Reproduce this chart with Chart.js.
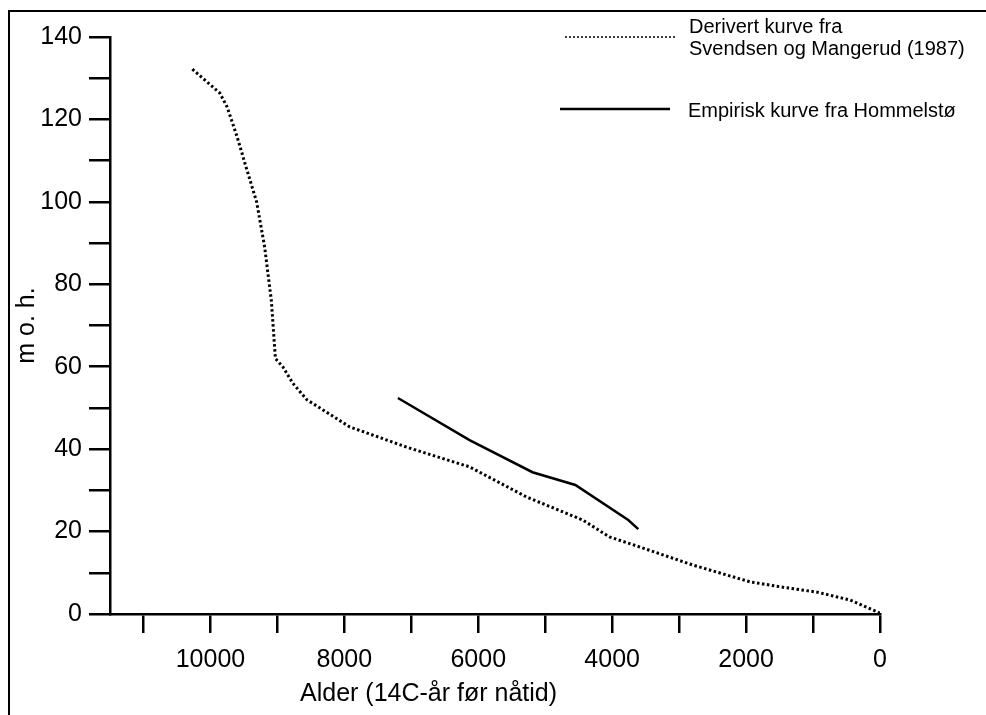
<!DOCTYPE html>
<html>
<head>
<meta charset="utf-8">
<script src="https://cdn.jsdelivr.net/npm/chart.js@4"></script>
<style>
    html, body { margin: 0; padding: 0; background: #fff; overflow: hidden; }
    #wrap { position: relative; width: 986px; height: 715px; }
    #frame { position: absolute; left: 8px; top: 10px; right: -10px; bottom: -10px;
             border-left: 2px solid #000; border-top: 2px solid #000; pointer-events: none; }
</style>
</head>
<body>
<div id="wrap">
    <canvas id="curveChart" width="986" height="715"></canvas>
    <div id="frame"></div>
</div>
<script>
"use strict";

// Derivert kurve (Svendsen og Mangerud 1987) - alder og høyde
const derivAge = [10270, 9860, 9750, 9600, 9460, 9310, 9190, 9090, 9030, 8920, 8770, 8560, 7920, 7070, 6130, 5280, 4440, 4040, 3540, 2800, 1940, 1450, 940, 450, 0];
const derivHeight = [132.2, 126.4, 123, 115.7, 108, 100, 89, 76, 62, 60, 56, 52, 45.4, 40.5, 35.7, 28.4, 22.8, 18.7, 16, 11.9, 7.8, 6.5, 5.3, 3.4, 0.2];

// Empirisk kurve fra Hommelstø
const empAge = [7200, 6130, 5190, 4550, 3760, 3610];
const empHeight = [52.4, 42.2, 34.4, 31.3, 22.8, 20.6];

// aksemerker (hvert 1000 år, tall hvert 2000)
const xTicks = [0, 1000, 2000, 3000, 4000, 5000, 6000, 7000, 8000, 9000, 10000, 11000];

// tekster
const legendLabels = [["Derivert kurve fra", "Svendsen og Mangerud (1987)"], ["Empirisk kurve fra Hommelstø"]];
const xTitle = "Alder (14C-år før nåtid)";
const yTitle = "m o. h.";

const fontName = "'Liberation Sans', Arial, sans-serif";

function toPoints(xs, ys) {
    return xs.map((x, i) => ({ x: x, y: ys[i] }));
}

// tegner forklaring og x-tittel
const extraText = {
    id: 'extraText',
    afterDraw(chart) {
        const ctx = chart.ctx;
        ctx.save();
        ctx.strokeStyle = '#000';

        // prikket linje
        ctx.lineWidth = 1.5;
        ctx.setLineDash([2, 2]);
        ctx.beginPath();
        ctx.moveTo(565, 37);
        ctx.lineTo(675, 37);
        ctx.stroke();

        // heltrukket linje
        ctx.setLineDash([]);
        ctx.lineWidth = 2.5;
        ctx.beginPath();
        ctx.moveTo(560, 109);
        ctx.lineTo(670, 109);
        ctx.stroke();

        ctx.fillStyle = '#000';
        ctx.textBaseline = 'alphabetic';
        ctx.textAlign = 'left';
        ctx.font = "20px " + fontName;
        ctx.fillText(legendLabels[0][0], 689, 32.5);
        ctx.fillText(legendLabels[0][1], 689, 55);
        ctx.fillText(legendLabels[1][0], 688, 116.5);

        ctx.font = "25px " + fontName;
        ctx.fillText(xTitle, 300, 701);
        ctx.restore();
    }
};

const chartEl = document.getElementById('curveChart');

new Chart(chartEl, {
    type: 'line',
    data: {
        datasets: [{
            label: legendLabels[0].join(' '),
            data: toPoints(derivAge, derivHeight),
            borderColor: '#000',
            borderWidth: 3,
            borderDash: [2.5, 2.5],
            pointRadius: 0,
            tension: 0
        }, {
            label: legendLabels[1][0],
            data: toPoints(empAge, empHeight),
            borderColor: '#000',
            borderWidth: 2.5,
            pointRadius: 0,
            tension: 0
        }]
    },
    options: {
        responsive: false,
        animation: false,
        layout: { padding: { left: 0, top: 37, right: 106, bottom: 0 } },
        plugins: {
            legend: { display: false },
            tooltip: { enabled: false }
        },
        scales: {
            x: {
                type: 'linear',
                reverse: true,
                min: 0,
                max: 11500,
                afterBuildTicks(scale) {
                    scale.ticks = xTicks.map(v => ({ value: v }));
                },
                afterFit(scale) { scale.height = 101; },
                grid: { drawOnChartArea: false, drawTicks: true, tickLength: 19, color: '#000', lineWidth: 2.5 },
                border: { color: '#000', width: 2.5 },
                ticks: {
                    autoSkip: false,
                    maxRotation: 0,
                    padding: 12,
                    color: '#000',
                    font: { family: fontName, size: 25 },
                    callback: (v) => (v % 2000 === 0 ? String(v) : '')
                }
            },
            y: {
                min: 0,
                max: 140,
                afterFit(scale) { scale.width = 110; },
                grid: { drawOnChartArea: false, drawTicks: true, tickLength: 21, color: '#000', lineWidth: 2.5 },
                border: { color: '#000', width: 2.5 },
                title: {
                    display: true,
                    text: yTitle,
                    color: '#000',
                    font: { family: fontName, size: 25 },
                    padding: { top: 12, bottom: 0 }
                },
                ticks: {
                    stepSize: 10,
                    autoSkip: false,
                    padding: 7,
                    color: '#000',
                    font: { family: fontName, size: 25 },
                    callback: (v) => (v % 20 === 0 ? String(v) : '')
                }
            }
        }
    },
    plugins: [extraText]
});
</script>
</body>
</html>
